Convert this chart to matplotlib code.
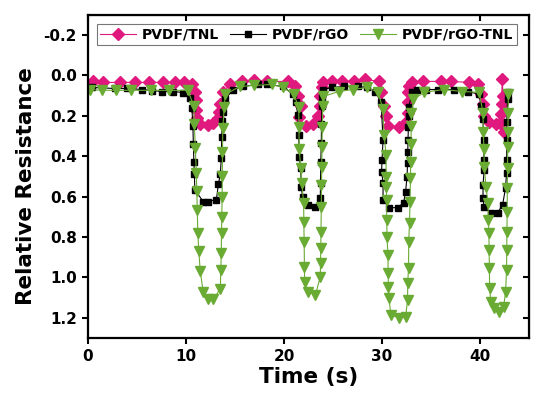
import numpy as np
import matplotlib
matplotlib.use("Agg")
import matplotlib.pyplot as plt

# PVDF/TNL
t_tnl = [0.5, 1.5, 3.3, 4.8, 6.2, 7.7, 8.9, 9.8, 10.6, 10.95, 11.0, 11.05, 11.15, 11.45,
         12.2, 12.8, 13.3, 13.4, 13.5, 13.8, 14.5, 15.7, 16.9, 18.3,
         20.4, 21.1, 21.4, 21.7, 21.5, 22.2, 23.0, 23.5, 23.7, 23.7, 23.9, 24.0, 24.9,
         25.9, 27.1, 28.3, 29.7, 29.9, 30.2, 30.4, 30.6, 31.7, 32.4, 32.6, 32.6, 32.6,
         32.7, 33.1, 34.2, 36.0, 37.0, 38.9, 39.8, 40.1, 40.3, 40.4, 40.9, 41.6, 42.0,
         42.1, 42.2, 42.25, 42.35, 42.45]
r_tnl = [0.03, 0.035, 0.035, 0.035, 0.035, 0.035, 0.035, 0.035, 0.045, 0.08, 0.12, 0.17, 0.21, 0.243,
         0.248, 0.238, 0.21, 0.18, 0.144, 0.08, 0.045, 0.03, 0.025, 0.03,
         0.03, 0.055, 0.104, 0.154, 0.208, 0.253, 0.243, 0.203, 0.154, 0.104, 0.06, 0.035, 0.03,
         0.03, 0.03, 0.02, 0.03, 0.084, 0.154, 0.203, 0.253, 0.258, 0.233, 0.184, 0.134, 0.084,
         0.055, 0.035, 0.03, 0.03, 0.03, 0.035, 0.045, 0.094, 0.144, 0.203, 0.233, 0.243, 0.238,
         0.19, 0.14, 0.02, 0.10, 0.28]

# PVDF/rGO
t_rgo = [0.4, 2.8, 4.0, 5.5, 6.5, 7.6, 8.7, 9.7, 10.4, 10.6, 10.7, 10.75, 10.8, 10.85, 10.9,
         11.75, 12.2, 13.1, 13.3, 13.5, 13.6, 13.65, 13.7, 13.8, 14.0, 14.8, 15.8, 17.3, 18.3,
         19.9, 20.9, 21.2, 21.4, 21.5, 21.55, 21.7, 21.75, 21.9, 22.4, 23.2, 23.7, 23.72, 23.75,
         23.8, 23.82, 23.85, 23.9, 24.0, 24.9, 26.1, 27.5, 28.5, 29.3, 29.9, 30.1, 30.0, 29.95,
         30.1, 30.1, 30.7, 31.6, 32.2, 32.4, 32.55, 32.6, 32.62, 32.65, 32.68, 32.7, 32.7, 33.1,
         33.6, 34.5, 35.7, 37.3, 38.8, 39.9, 40.1, 40.3, 40.35, 40.4, 40.42, 40.3, 40.3, 40.4,
         41.1, 41.8, 42.3, 42.6, 42.7, 42.72, 42.72, 42.72, 42.8, 42.8]
r_rgo = [0.06, 0.065, 0.065, 0.07, 0.075, 0.08, 0.08, 0.085, 0.11, 0.164, 0.25, 0.342, 0.427, 0.486, 0.566,
         0.625, 0.625, 0.615, 0.54, 0.49, 0.407, 0.303, 0.228, 0.179, 0.119, 0.07, 0.055, 0.045, 0.045,
         0.055, 0.094, 0.134, 0.194, 0.293, 0.402, 0.457, 0.551, 0.601, 0.64, 0.65, 0.605, 0.531, 0.427,
         0.333, 0.243, 0.154, 0.109, 0.07, 0.06, 0.055, 0.055, 0.06, 0.08, 0.134, 0.318, 0.417, 0.476,
         0.531, 0.615, 0.655, 0.655, 0.63, 0.576, 0.501, 0.432, 0.377, 0.318, 0.258, 0.203, 0.159, 0.08,
         0.07, 0.07, 0.07, 0.07, 0.08, 0.094, 0.154, 0.218, 0.318, 0.417, 0.467, 0.541, 0.605, 0.65,
         0.68, 0.68, 0.64, 0.556, 0.481, 0.417, 0.318, 0.233, 0.119, 0.084]

# PVDF/rGO-TNL
t_mix = [0.2, 1.4, 2.9, 4.4, 6.4, 8.3, 10.2, 10.8, 10.85, 10.95, 11.05, 11.1, 11.15, 11.2, 11.3,
         11.45, 11.75, 12.25, 12.8, 13.5, 13.55, 13.6, 13.62, 13.65, 13.68, 13.7, 13.72, 13.75,
         13.9, 14.0, 15.5, 16.9, 18.8, 19.9, 21.0, 21.5, 21.52, 21.55, 21.7, 21.8, 22.0, 22.02,
         22.05, 22.08, 22.1, 22.4, 23.2, 23.7, 23.72, 23.75, 23.77, 23.8, 23.82, 23.85, 23.87,
         23.9, 23.95, 24.0, 25.6, 27.0, 28.5, 29.6, 30.1, 30.2, 30.4, 30.42, 30.44, 30.46, 30.48,
         30.5, 30.6, 30.62, 30.65, 30.7, 30.9, 31.7, 32.4, 32.6, 32.62, 32.7, 32.72, 32.8, 32.85,
         32.9, 32.92, 32.95, 32.97, 33.0, 33.2, 34.3, 36.3, 38.2, 39.9, 40.3, 40.32, 40.4, 40.42,
         40.6, 40.8, 40.85, 40.9, 40.92, 40.95, 40.97, 41.1, 41.4, 41.9, 42.4, 42.6, 42.7, 42.72,
         42.74, 42.76, 42.78, 42.8, 42.82, 42.84, 42.86, 42.88]
r_mix = [0.07, 0.074, 0.074, 0.074, 0.074, 0.074, 0.074, 0.154, 0.243, 0.362, 0.481, 0.571, 0.665, 0.779, 0.868,
         0.968, 1.072, 1.107, 1.107, 1.057, 0.963, 0.878, 0.779, 0.70, 0.60, 0.496, 0.377, 0.263,
         0.159, 0.094, 0.055, 0.05, 0.045, 0.06, 0.094, 0.159, 0.258, 0.367, 0.457, 0.531, 0.63, 0.725,
         0.824, 0.948, 1.022, 1.072, 1.087, 0.998, 0.928, 0.854, 0.774, 0.65, 0.541, 0.452, 0.357,
         0.258, 0.154, 0.104, 0.08, 0.07, 0.06, 0.084, 0.169, 0.293, 0.392, 0.501, 0.551, 0.615, 0.715,
         0.799, 0.888, 0.978, 1.047, 1.102, 1.186, 1.201, 1.196, 1.112, 1.027, 0.953, 0.824, 0.73, 0.625,
         0.506, 0.427, 0.342, 0.253, 0.184, 0.119, 0.084, 0.07, 0.08, 0.084, 0.184, 0.278, 0.367, 0.452,
         0.551, 0.63, 0.715, 0.779, 0.864, 0.953, 1.052, 1.122, 1.151, 1.171, 1.146, 1.072, 0.963, 0.864,
         0.774, 0.675, 0.556, 0.457, 0.357, 0.278, 0.184, 0.094]

pink = '#e0197e'
green = '#6aab34'

plt.rcParams['font.family'] = 'DejaVu Sans'
plt.rcParams['font.weight'] = 'bold'

fig = plt.figure(figsize=(5.5, 3.99), dpi=100)
ax = fig.add_axes([0.16, 0.153, 0.802, 0.81])

ax.plot(t_tnl, r_tnl, color=pink, lw=0.8, marker='D', ms=6, mec=pink, mfc=pink, label='PVDF/TNL')
ax.plot(t_rgo, r_rgo, color='black', lw=0.8, marker='s', ms=4.5, label='PVDF/rGO')
ax.plot(t_mix, r_mix, color=green, lw=0.8, marker='v', ms=6.5, mec=green, mfc=green, label='PVDF/rGO-TNL')

ax.set_xlim(0, 45)
ax.set_ylim(1.3, -0.3)
ax.set_xticks([0, 10, 20, 30, 40])
ax.set_yticks(np.arange(-0.2, 1.21, 0.2))
ax.set_yticklabels(['-0.2', '0.0', '0.2', '0.4', '0.6', '0.8', '1.0', '1.2'])

for s in ax.spines.values():
    s.set_linewidth(1.6)
ax.tick_params(axis='both', which='major', direction='out', length=4.5, width=1.5, labelsize=11)
for lab in ax.get_xticklabels() + ax.get_yticklabels():
    lab.set_fontweight('bold')

# mirrored ticks on top/right pointing inward
ax2 = ax.secondary_xaxis('top')
ax2.set_xticks([0, 10, 20, 30, 40])
ax2.tick_params(direction='in', length=4.5, width=1.5, labeltop=False)
ax3 = ax.secondary_yaxis('right')
ax3.set_yticks(np.arange(-0.2, 1.21, 0.2))
ax3.tick_params(direction='in', length=4.5, width=1.5, labelright=False)

ax.set_xlabel('Time (s)', fontsize=15.5, fontweight='bold', labelpad=2)
ax.set_ylabel('Relative Resistance', fontsize=15.5, fontweight='bold')
ax.yaxis.set_label_coords(-0.118, 0.47)

leg = ax.legend(loc='upper left', bbox_to_anchor=(0.02, 0.97), ncol=3, fontsize=10,
                frameon=True, fancybox=False, edgecolor='#555555', handlelength=2.6,
                columnspacing=0.8, handletextpad=0.4, borderpad=0.25, borderaxespad=0)
leg.get_frame().set_linewidth(0.8)
for txt in leg.get_texts():
    txt.set_fontweight('bold')

fig.savefig('out.png', dpi=100)
